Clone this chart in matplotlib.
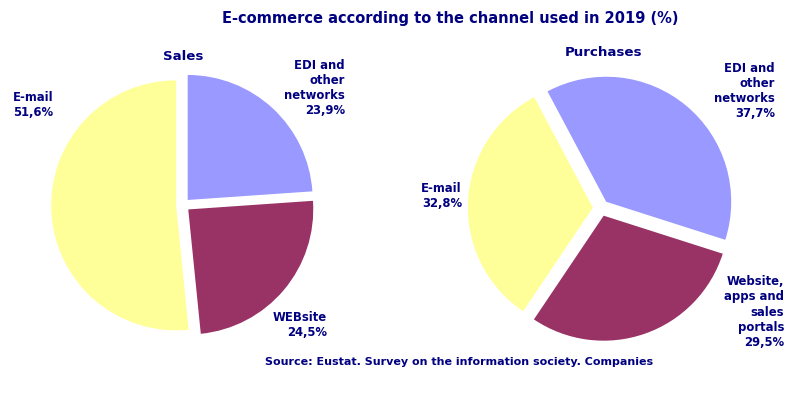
import matplotlib.pyplot as plt

# E-commerce by channel, 2019 (%)
channels_sales = ['EDI and\nother\nnetworks', 'WEBsite', 'E-mail']
sales = [23.9, 24.5, 51.6]

channels_purch = ['EDI and\nother\nnetworks', 'Website,\napps and\nsales\nportals', 'E-mail']
purchases = [37.7, 29.5, 32.8]

colors = ['#9999ff', '#993366', '#ffff99']
navy = '#000080'

W, H = 800, 397
fig = plt.figure(figsize=(W / 100, H / 100), dpi=100)
plt.rcParams['font.family'] = 'DejaVu Sans'


def pie_axes(cx, cy, r):
    # square axes in pixel units, radius 1 -> r px
    half = 1.2 * r
    ax = fig.add_axes([(cx - half) / W, (H - cy - half) / H, 2 * half / W, 2 * half / H])
    return ax


def fmt(v):
    return f'{v:.1f}'.replace('.', ',') + '%'


# left pie: Sales
ax1 = pie_axes(183, 205, 125)
ax1.pie(sales, colors=colors, startangle=90, counterclock=False,
        explode=[0.055] * 3, wedgeprops=dict(linewidth=0))
ax1.set_xlim(-1.2, 1.2)
ax1.set_ylim(-1.2, 1.2)

# right pie: Purchases
ax2 = pie_axes(601, 208, 125)
ax2.pie(purchases, colors=colors, startangle=118, counterclock=False,
        explode=[0.065] * 3, wedgeprops=dict(linewidth=0))
ax2.set_xlim(-1.2, 1.2)
ax2.set_ylim(-1.2, 1.2)

tkw = dict(color=navy, fontweight='bold', fontsize=8.4, linespacing=1.22)


def ftext(x, y, s, **kw):
    fig.text(x / W, 1 - y / H, s, **kw)


ftext(450, 18, 'E-commerce according to the channel used in 2019 (%)',
      ha='center', va='center', color=navy, fontweight='bold', fontsize=10.5)
ftext(183, 57, 'Sales', ha='center', va='center', color=navy, fontweight='bold', fontsize=9.6)
ftext(603, 52, 'Purchases', ha='center', va='center', color=navy, fontweight='bold', fontsize=9.6)

# Sales labels
ftext(345, 88, channels_sales[0] + '\n' + fmt(sales[0]), ha='right', va='center', **tkw)
ftext(327, 325, channels_sales[1] + '\n' + fmt(sales[1]), ha='right', va='center', **tkw)
ftext(33, 105, channels_sales[2] + '\n' + fmt(sales[2]), ha='center', va='center', **tkw)

# Purchases labels
ftext(775, 91, channels_purch[0] + '\n' + fmt(purchases[0]), ha='right', va='center', **tkw)
ftext(784, 312, channels_purch[1] + '\n' + fmt(purchases[1]), ha='right', va='center', **tkw)
ftext(462, 196, channels_purch[2] + '\n' + fmt(purchases[2]), ha='right', va='center', **tkw)

ftext(459, 362, 'Source: Eustat. Survey on the information society. Companies',
      ha='center', va='center', color=navy, fontweight='bold', fontsize=8)

fig.savefig('out.png', dpi=100, facecolor='white')
